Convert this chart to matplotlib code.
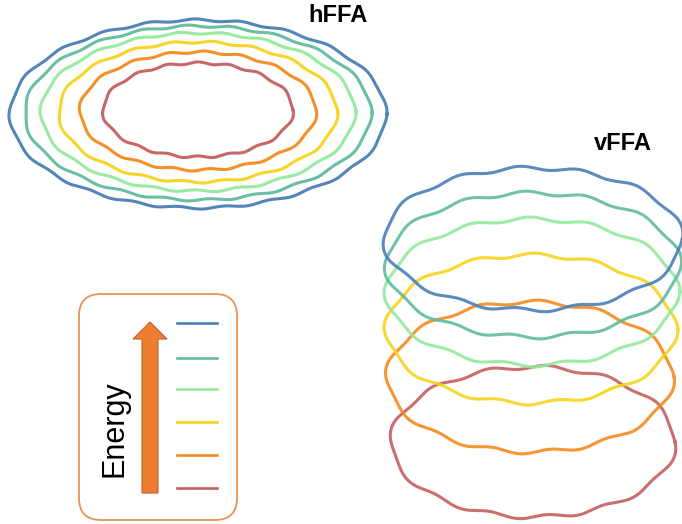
import matplotlib.pyplot as plt
import numpy as np
from matplotlib.patches import FancyArrow, FancyBboxPatch

# energy levels, lowest -> highest
levels = ["E1", "E2", "E3", "E4", "E5", "E6"]
colors = ["#c3605f", "#f48a1e", "#f7d31c", "#93ea9b", "#62bb9f", "#4a7fb6"]

# hFFA: concentric rings (radii in px)
hffa_rx = [95, 118, 139, 157, 173, 188]
hffa_ry = [47, 59, 70, 79, 87, 94]
hffa_cy = [110, 111, 112, 112, 113, 114]
hffa_waves = [15, 16, 17, 18, 19, 20]

# vFFA: stacked rings (centre + radii in px)
vffa_cy = [442, 377, 329, 292, 265, 239]
vffa_rx = [142, 143, 145, 146, 147, 149]
vffa_ry = [75, 75, 74, 73, 72, 71]
vffa_cx = [533, 530, 531, 532, 533, 533]

# legend line heights
legend_y = [488, 455, 422, 389, 358, 323]


def wavy_ring(cx, cy, rx, ry, n_wave, amp, phase=0.0):
    t = np.linspace(0, 2 * np.pi, 1200)
    x, y = rx * np.cos(t), ry * np.sin(t)
    # arc length so the ripples are evenly spaced
    s = np.concatenate([[0], np.cumsum(np.hypot(np.diff(x), np.diff(y)))])
    s = s / s[-1]
    nx, ny = np.cos(t) / rx, np.sin(t) / ry
    nn = np.hypot(nx, ny)
    w = amp * np.sin(2 * np.pi * n_wave * s + phase)
    return cx + x + w * nx / nn, cy + y + w * ny / nn


fig = plt.figure(figsize=(6.82, 5.24), dpi=100)
ax = fig.add_axes([0, 0, 1, 1])
ax.set_xlim(0, 682)
ax.set_ylim(524, 0)
ax.set_aspect("equal")
ax.axis("off")

# hFFA
for i in range(len(levels)):
    x, y = wavy_ring(198, hffa_cy[i], hffa_rx[i], hffa_ry[i], hffa_waves[i], 1.1,
                     phase=0.4 * i)
    ax.plot(x, y, color=colors[i], lw=2.2, alpha=0.95)
ax.text(338, 16, "hFFA", fontsize=17, fontweight="bold",
        family="Liberation Sans", ha="center", va="center")

# vFFA
for i in range(len(levels)):
    x, y = wavy_ring(vffa_cx[i], vffa_cy[i], vffa_rx[i], vffa_ry[i], 12, 2.0,
                     phase=0.6 * i)
    ax.plot(x, y, color=colors[i], lw=2.2, alpha=0.9)
ax.text(623, 144, "vFFA", fontsize=17, fontweight="bold",
        family="Liberation Sans", ha="center", va="center")

# legend box
box = FancyBboxPatch((79, 294), 158, 226, boxstyle="round,pad=0,rounding_size=22",
                     fc="white", ec="#e99454", lw=1.3)
ax.add_patch(box)
ax.add_patch(FancyArrow(150, 493, 0, -171, width=16, head_width=34, head_length=17,
                        length_includes_head=True, fc="#ed7d31", ec="#c0622a", lw=0.8))
ax.text(114, 429, "Energy", rotation=90, fontsize=22, family="Liberation Sans",
        ha="center", va="center")
for i in range(len(levels)):
    ax.plot([177, 217], [legend_y[i], legend_y[i]], color=colors[i], lw=1.9)

fig.savefig("out.png", dpi=100)
